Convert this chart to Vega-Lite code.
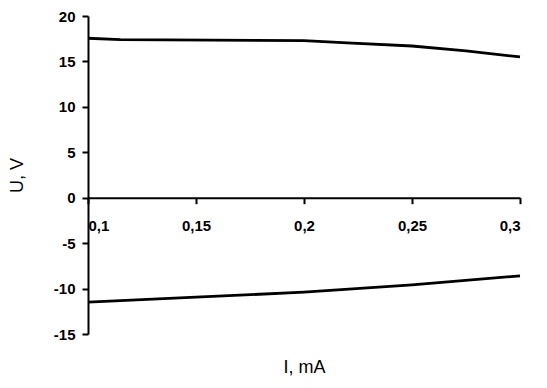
{
  "$schema": "https://vega.github.io/schema/vega-lite/v6.json",
  "autosize": "none",
  "width": 432,
  "height": 318,
  "padding": {"left": 88, "top": 16, "right": 27, "bottom": 54},
  "background": "white",
  "config": {
    "view": {"stroke": null},
    "axis": {"grid": false, "domainColor": "black", "tickColor": "black", "labelColor": "black", "titleColor": "black", "labelFont": "Liberation Sans", "titleFont": "Liberation Sans"}
  },
  "data": {"values": [
    {"branch": "upper", "I": 0.1, "U": 17.55},
    {"branch": "upper", "I": 0.115, "U": 17.4},
    {"branch": "upper", "I": 0.2, "U": 17.3},
    {"branch": "upper", "I": 0.22, "U": 17.05},
    {"branch": "upper", "I": 0.25, "U": 16.7},
    {"branch": "upper", "I": 0.275, "U": 16.15},
    {"branch": "upper", "I": 0.3, "U": 15.5},
    {"branch": "lower", "I": 0.1, "U": -11.5},
    {"branch": "lower", "I": 0.15, "U": -10.95},
    {"branch": "lower", "I": 0.2, "U": -10.4},
    {"branch": "lower", "I": 0.25, "U": -9.6},
    {"branch": "lower", "I": 0.3, "U": -8.6}
  ]},
  "mark": {"type": "line", "color": "black", "strokeWidth": 2.8},
  "encoding": {
    "detail": {"field": "branch"},
    "x": {
      "field": "I", "type": "quantitative",
      "scale": {"domain": [0.1, 0.3], "nice": false, "zero": false},
      "axis": {
        "values": [0.1, 0.15, 0.2, 0.25, 0.3],
        "labelExpr": "replace(format(datum.value, '.2~f'), '.', ',')",
        "offset": -136.3,
        "domainWidth": 2, "tickWidth": 2, "tickSize": 6,
        "labelPadding": 15, "labelFontSize": 15, "labelFontWeight": "bold",
        "title": "I, mA", "titleFontSize": 18, "titleFontWeight": "normal",
        "titleY": 161
      }
    },
    "y": {
      "field": "U", "type": "quantitative",
      "scale": {"domain": [-15, 20], "nice": false, "zero": false},
      "axis": {
        "values": [-15, -10, -5, 0, 5, 10, 15, 20],
        "labelExpr": "'' + datum.value",
        "domainWidth": 2, "tickWidth": 2, "tickSize": 6,
        "labelPadding": 7, "labelFontSize": 15, "labelFontWeight": "bold",
        "title": "U, V", "titleFontSize": 18, "titleFontWeight": "normal",
        "titleX": -62
      }
    }
  }
}
